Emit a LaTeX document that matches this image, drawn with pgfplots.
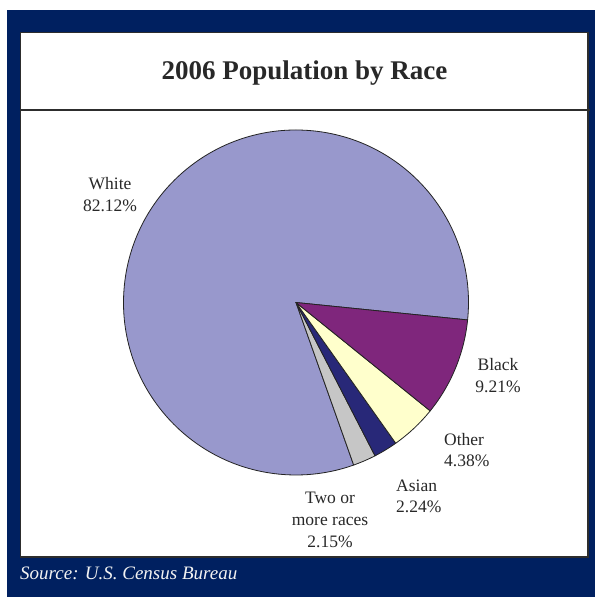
\documentclass[border=0pt]{standalone}
\usepackage{pgfplots}
\usepackage{pgfplotstable}
\pgfplotsset{compat=1.18}
\usepackage{fontspec}
\setmainfont{Liberation Serif}
\definecolor{navy}{RGB}{0,32,96}
\definecolor{cWhite}{RGB}{152,152,204}
\definecolor{cBlack}{RGB}{127,38,124}
\definecolor{cOther}{RGB}{255,255,204}
\definecolor{cAsian}{RGB}{40,40,120}
\definecolor{cTwo}{RGB}{198,198,198}
\definecolor{edgec}{RGB}{35,35,35}
\definecolor{textc}{RGB}{40,40,40}
\definecolor{framec}{RGB}{45,45,45}

\pgfplotstableread{
name value start col
White 82.12 0 cWhite
Two 2.15 82.12 cTwo
Asian 2.24 84.27 cAsian
Other 4.38 86.51 cOther
Black 9.21 90.89 cBlack
}\piedata

\begin{document}
\begin{tikzpicture}
\begin{axis}[hide axis, x=1pt, y=1pt, xmin=0, xmax=595, ymin=0, ymax=598,
  scale only axis, clip=false]
% background and frame
\fill[white] (axis cs:0,0) rectangle (axis cs:595,598);
\fill[navy] (axis cs:6.5,1) rectangle (axis cs:595,587.5);
\fill[white, draw=framec, line width=1.5pt] (axis cs:20.5,41) rectangle (axis cs:588,565.3);
\draw[framec, line width=2pt] (axis cs:20.5,488) -- (axis cs:590,488);
% title
\node[anchor=base, text=textc, font=\fontsize{27}{31}\selectfont\bfseries] at (axis cs:304.4,518) {2006 Population by Race};
% source
\node[anchor=base west, inner sep=0pt, text=white!90!gray, font=\fontsize{19}{22}\selectfont\itshape] at (axis cs:20,18) {Source: U.S. Census Bureau};
% pie slices
\pgfplotsforeachungrouped \i in {0,...,4}{%
  \pgfplotstablegetelem{\i}{value}\of\piedata \let\pv\pgfplotsretval
  \pgfplotstablegetelem{\i}{start}\of\piedata \let\ps\pgfplotsretval
  \pgfplotstablegetelem{\i}{col}\of\piedata \let\pc\pgfplotsretval
  \edef\doslice{\noexpand\fill[\pc, draw=edgec, line width=0.8pt, line join=round] (axis cs:296,295.5) -- ++({-5.8+\ps*3.5964}:172.5pt) arc[start angle={-5.8+\ps*3.5964}, delta angle={\pv*3.5964}, radius=172.5pt] -- cycle;}%
  \doslice
}
% labels
\tikzset{lab/.style={text=textc, inner sep=0pt, font=\fontsize{17.5}{21}\selectfont}}
\node[lab, anchor=base] at (axis cs:110,408) {White};
\node[lab, anchor=base] at (axis cs:110,386) {82.12\%};
\node[lab, anchor=base] at (axis cs:498,227) {Black};
\node[lab, anchor=base] at (axis cs:498,205) {9.21\%};
\node[lab, anchor=base west] at (axis cs:444,152) {Other};
\node[lab, anchor=base west] at (axis cs:444,131) {4.38\%};
\node[lab, anchor=base west] at (axis cs:396,106) {Asian};
\node[lab, anchor=base west] at (axis cs:396,85) {2.24\%};
\node[lab, anchor=base] at (axis cs:330,94) {Two or};
\node[lab, anchor=base] at (axis cs:330,72) {more races};
\node[lab, anchor=base] at (axis cs:330,50) {2.15\%};
\end{axis}
\end{tikzpicture}
\end{document}
